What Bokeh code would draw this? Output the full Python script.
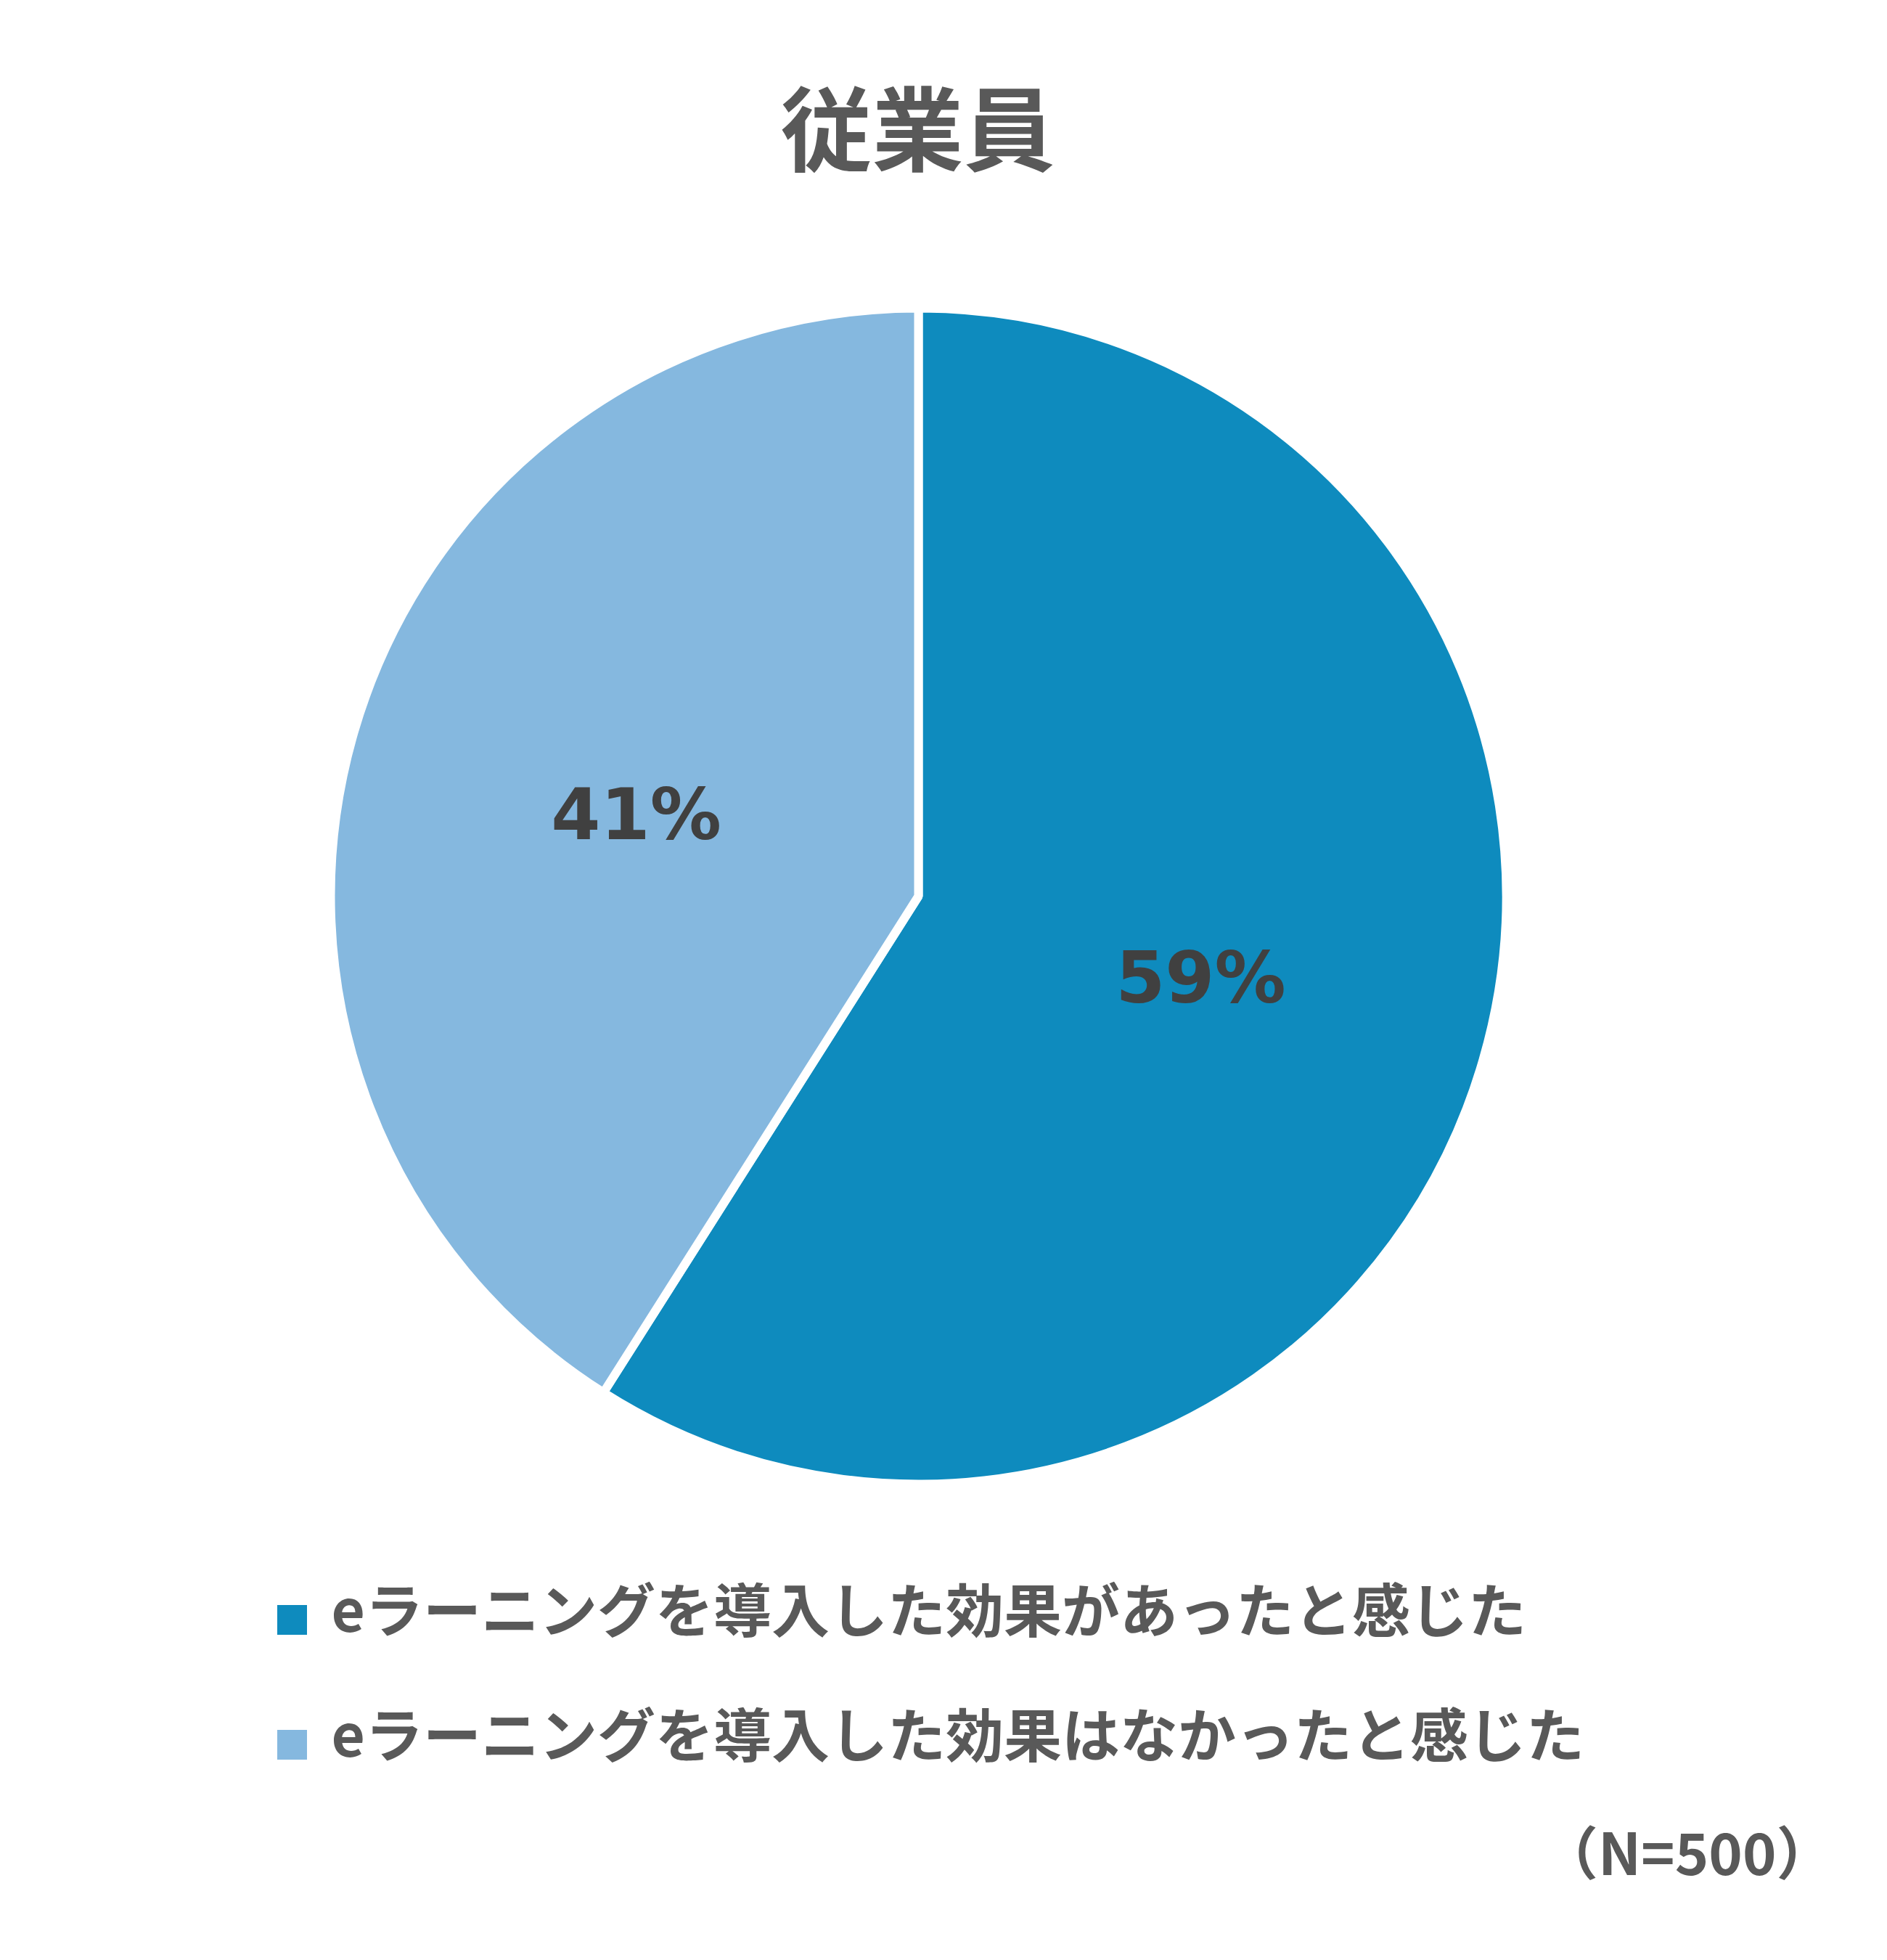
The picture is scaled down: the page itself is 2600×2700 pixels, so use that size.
import math
from bokeh.plotting import figure
from bokeh.models import Range1d, ColumnDataSource
from bokeh.core.properties import value
from bokeh.embed import file_html
from bokeh.resources import INLINE

# ---- data ----
title_text = "従業員"
categories = ["eラーニングを導入した効果があったと感じた",
              "eラーニングを導入した効果はなかったと感じた"]
shares = [59, 41]
colors = ["#0E8BBE", "#85B8DF"]
note_text = "（N=500）"

# ---- layout (page pixel coordinates; data y = 2700 - page y) ----
W, H = 2584, 2684
PAGE_H = 2700
cx, cy_page, R = 1265, 1234, 810
cy = PAGE_H - cy_page

p = figure(width=W, height=H, output_backend="svg", toolbar_location=None,
           x_range=Range1d(0, W), y_range=Range1d(PAGE_H - H, PAGE_H),
           min_border=0)
p.axis.visible = False
p.grid.visible = False
p.outline_line_color = None
p.background_fill_color = "white"
p.border_fill_color = "white"

total = sum(shares)
starts, ends, lx, ly, labels = [], [], [], [], []
acc = 0.0
for s in shares:
    a0 = math.pi / 2 - 2 * math.pi * acc / total
    a1 = math.pi / 2 - 2 * math.pi * (acc + s) / total
    starts.append(a0)
    ends.append(a1)
    mid = (a0 + a1) / 2
    lx.append(cx + 0.50 * R * math.cos(mid))
    ly.append(cy + 0.50 * R * math.sin(mid))
    labels.append(f"{s}%")
    acc += s

src = ColumnDataSource(dict(start=starts, end=ends, color=colors,
                            lx=lx, ly=ly, label=labels, cat=categories))
p.wedge(x=cx, y=cy, radius=R, start_angle="start", end_angle="end",
        direction="clock", fill_color="color", line_color="white",
        line_width=12, source=src)

p.text(x="lx", y="ly", text="label", source=src, text_align="center",
       text_baseline="middle", text_font=value("DejaVu Sans"),
       text_font_style="bold", text_font_size="98px", text_color="#404040")

# title
p.text(x=[1264], y=[PAGE_H - 170], text=[title_text], text_align="center",
       text_baseline="middle", text_font=value("Noto Sans CJK JP"),
       text_font_style="bold", text_font_size="126px", text_color="#595959")

# legend
sq_y = [PAGE_H - 2231, PAGE_H - 2403]
tx_y = [PAGE_H - 2212, PAGE_H - 2384]
p.rect(x=[402, 402], y=sq_y, width=41, height=41, fill_color=colors,
       line_color=None)
p.text(x=[456, 456], y=tx_y, text=categories, text_align="left",
       text_baseline="middle", text_font=value("Noto Sans CJK JP"),
       text_font_style="bold", text_font_size="80px", text_color="#595959")

# note
p.text(x=[2526], y=[PAGE_H - 2548], text=[note_text], text_align="right",
       text_baseline="middle", text_font=value("Noto Sans CJK JP"),
       text_font_style="bold", text_font_size="79px", text_color="#595959")

open("out.html", "w").write(file_html(p, INLINE))
